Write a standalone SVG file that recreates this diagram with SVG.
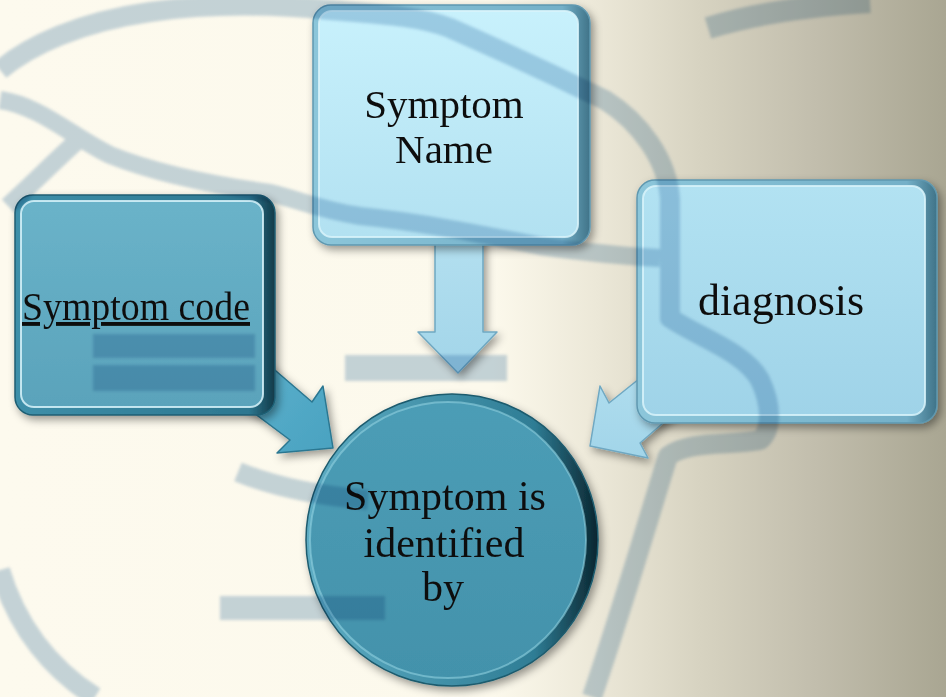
<svg xmlns="http://www.w3.org/2000/svg" width="946" height="697" viewBox="0 0 946 697">
<defs>
  <linearGradient id="bg" x1="0" y1="0" x2="1" y2="0">
    <stop offset="0" stop-color="#fdfaee"/>
    <stop offset="0.52" stop-color="#fcf9ec"/>
    <stop offset="0.63" stop-color="#ece8d8"/>
    <stop offset="0.74" stop-color="#d7d3c1"/>
    <stop offset="0.86" stop-color="#c2bead"/>
    <stop offset="1" stop-color="#a9a692"/>
  </linearGradient>
  <linearGradient id="gCodeFrame" x1="0" y1="0" x2="1" y2="0">
    <stop offset="0" stop-color="#3e8fa9"/>
    <stop offset="0.9" stop-color="#2d7790"/>
    <stop offset="1" stop-color="#113a48"/>
  </linearGradient>
  <linearGradient id="gCodeFace" x1="0" y1="0" x2="0" y2="1">
    <stop offset="0" stop-color="#6ab3c9"/>
    <stop offset="1" stop-color="#5aa3bb"/>
  </linearGradient>
  <linearGradient id="gLightFrame" x1="0" y1="0" x2="1" y2="0">
    <stop offset="0" stop-color="#8cc6da"/>
    <stop offset="0.9" stop-color="#74b0c8"/>
    <stop offset="1" stop-color="#3f7388"/>
  </linearGradient>
  <linearGradient id="gNameFace" x1="0" y1="0" x2="0" y2="1">
    <stop offset="0" stop-color="#c8f1fc"/>
    <stop offset="1" stop-color="#b2e1f1"/>
  </linearGradient>
  <linearGradient id="gDiagFace" x1="0" y1="0" x2="0" y2="1">
    <stop offset="0" stop-color="#b2e2f2"/>
    <stop offset="1" stop-color="#9fd3e8"/>
  </linearGradient>
  <linearGradient id="gCircFrame" x1="0" y1="0" x2="1" y2="0">
    <stop offset="0" stop-color="#5eadc4"/>
    <stop offset="0.78" stop-color="#2f7d95"/>
    <stop offset="1" stop-color="#0a2630"/>
  </linearGradient>
  <linearGradient id="gCircFace" x1="0" y1="0" x2="0" y2="1">
    <stop offset="0" stop-color="#4c9db6"/>
    <stop offset="1" stop-color="#4392ab"/>
  </linearGradient>
  <linearGradient id="gArrowDark" x1="0" y1="0" x2="1" y2="1">
    <stop offset="0" stop-color="#5db3cf"/>
    <stop offset="1" stop-color="#4aa2c0"/>
  </linearGradient>
  <linearGradient id="gArrowLight" x1="0" y1="0" x2="0" y2="1">
    <stop offset="0" stop-color="#b4e0f0"/>
    <stop offset="1" stop-color="#a2d5e9"/>
  </linearGradient>
  <filter id="shadow" x="-10%" y="-10%" width="125%" height="125%">
    <feGaussianBlur in="SourceAlpha" stdDeviation="4"/>
    <feOffset dx="3" dy="4" result="b"/>
    <feFlood flood-color="#000" flood-opacity="0.4"/>
    <feComposite in2="b" operator="in"/>
    <feMerge><feMergeNode/><feMergeNode in="SourceGraphic"/></feMerge>
  </filter>
  <filter id="soft" x="-5%" y="-5%" width="110%" height="110%">
    <feGaussianBlur stdDeviation="1.5"/>
  </filter>
  <style>
    .lbl { font-family: "Liberation Serif", "Times New Roman", serif; fill: #111; text-anchor: middle; }
    .band { fill: none; stroke: #b8cde0; stroke-linejoin: round; }
    .hl { fill: none; stroke: #d8f3fa; stroke-opacity: 0.85; stroke-width: 2; }
  </style>
</defs>

<rect x="0" y="0" width="946" height="697" fill="url(#bg)"/>

<g id="connectors">
  <polygon id="arrow-code" points="240,340 312,402 323,386 333,448 277,453 290,440 230,395" fill="url(#gArrowDark)" stroke="#2c7791" stroke-width="1.5" stroke-linejoin="round" filter="url(#shadow)"/>
  <polygon id="arrow-name" points="435,230 483,230 483,332 497,332 458,373 418,332 435,332" fill="url(#gArrowLight)" stroke="#6fa8c2" stroke-width="1.5" stroke-linejoin="round" filter="url(#shadow)"/>
  <polygon id="arrow-diag" points="680,346 609,403 600,386 590,446 648,458 640,443 700,391" fill="url(#gArrowLight)" stroke="#6fa8c2" stroke-width="1.5" stroke-linejoin="round" filter="url(#shadow)"/>
</g>

<g id="node-symptom-code" filter="url(#shadow)">
  <rect x="15" y="195" width="260" height="220" rx="18" fill="url(#gCodeFrame)" stroke="#1f5e73" stroke-width="1.5"/>
  <rect x="21" y="201" width="242" height="206" rx="13" fill="url(#gCodeFace)"/>
  <rect x="21" y="201" width="242" height="206" rx="13" class="hl" stroke-opacity="0.6"/>
  <text class="lbl" x="136" y="320" font-size="39" textLength="228" lengthAdjust="spacingAndGlyphs" text-decoration="underline">Symptom code</text>
</g>

<g id="node-symptom-name" filter="url(#shadow)">
  <rect x="313" y="5" width="277" height="240" rx="18" fill="url(#gLightFrame)" stroke="#5f98b0" stroke-width="1.5"/>
  <rect x="319" y="11" width="259" height="226" rx="13" fill="url(#gNameFace)"/>
  <rect x="319" y="11" width="259" height="226" rx="13" class="hl"/>
  <text class="lbl" x="444" y="118" font-size="41">Symptom</text>
  <text class="lbl" x="444" y="163" font-size="41">Name</text>
</g>

<g id="node-diagnosis" filter="url(#shadow)">
  <rect x="637" y="180" width="300" height="243" rx="18" fill="url(#gLightFrame)" stroke="#5f98b0" stroke-width="1.5"/>
  <rect x="643" y="186" width="282" height="229" rx="13" fill="url(#gDiagFace)"/>
  <rect x="643" y="186" width="282" height="229" rx="13" class="hl"/>
  <text class="lbl" x="781" y="315" font-size="44">diagnosis</text>
</g>

<g id="node-symptom-identified" filter="url(#shadow)">
  <circle cx="452" cy="540" r="146" fill="url(#gCircFrame)" stroke="#1d5b6e" stroke-width="1.5"/>
  <circle cx="448" cy="540" r="138" fill="url(#gCircFace)"/>
  <circle cx="448" cy="540" r="138" fill="none" stroke="#8fd0e0" stroke-opacity="0.6" stroke-width="2"/>
  <text class="lbl" x="445" y="510" font-size="42">Symptom is</text>
  <text class="lbl" x="444" y="557" font-size="42">identified</text>
  <text class="lbl" x="443" y="601" font-size="42">by</text>
</g>

<g id="background-swirls" style="mix-blend-mode:multiply" opacity="0.8" filter="url(#soft)">
  <path class="band" stroke-width="20" d="M0,70 C30,45 80,22 150,12 S290,6 330,10 C380,14 420,16 450,28 C500,50 560,78 605,100 C640,122 668,160 670,200 L670,318 C700,338 745,352 760,380 C772,405 772,430 760,440 C730,446 690,440 668,456 C648,520 625,600 592,697"/>
  <path class="band" stroke-width="18" d="M0,100 C40,106 70,135 110,155 C160,175 220,186 270,193 C300,200 320,210 360,216 C420,222 480,234 540,246 C590,253 620,256 660,258"/>
  <path class="band" stroke-width="18" d="M76,142 C56,160 34,182 8,206"/>
  <path class="band" stroke-width="24" d="M93,346 L255,346"/>
  <path class="band" stroke-width="26" d="M93,378 L255,378"/>
  <path class="band" stroke-width="26" d="M345,368 L507,368"/>
  <path class="band" stroke-width="20" d="M238,472 C270,485 310,495 368,500"/>
  <path class="band" stroke-width="24" d="M220,608 L385,608"/>
  <path class="band" stroke-width="20" d="M0,570 C15,620 45,665 95,697"/>
  <path class="band" stroke-width="22" d="M708,28 C760,12 820,5 870,2"/>
</g>
</svg>
